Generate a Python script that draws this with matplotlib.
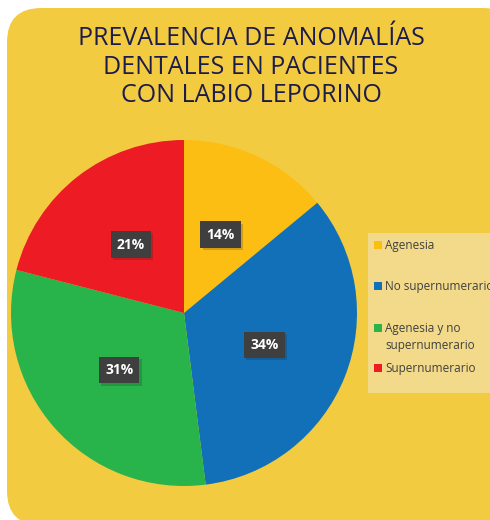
import matplotlib
matplotlib.use("Agg")
import matplotlib.pyplot as plt
from matplotlib.patches import FancyBboxPatch, Rectangle
import matplotlib.patheffects as pe

# data
categories = ["Agenesia", "No supernumerario", "Agenesia y no\nsupernumerario", "Supernumerario"]
values = [14, 34, 31, 21]
colors = ["#FDBE14", "#1270B8", "#28B34B", "#ED1C24"]
title = "PREVALENCIA DE ANOMALÍAS\nDENTALES EN PACIENTES\nCON LABIO LEPORINO"

W, H = 490, 520
fig = plt.figure(figsize=(W / 100, H / 100), dpi=100)
fig.patch.set_facecolor("white")

# rounded yellow background
bg = FancyBboxPatch((7 / W, -0.01), (W + 20) / W, (H - 8) / H + 0.01,
                    boxstyle="round,pad=0,rounding_size=0.07",
                    transform=fig.transFigure, facecolor="#F3CB41",
                    edgecolor="none", zorder=-2, mutation_aspect=W / H)
fig.patches.append(bg)

fig.text(251 / W, 1 - 67 / H, title, ha="center", va="center",
         fontsize=18, color="#1C1C4A", family="Open Sans",
         linespacing=1.2)

# pie
cx, cy, r = 184, 313, 173
ax = fig.add_axes([(cx - r) / W, (H - cy - r) / H, 2 * r / W, 2 * r / H], zorder=1)
ax.patch.set_visible(False)
wedges, texts, autotexts = ax.pie(values, colors=colors, startangle=90, counterclock=False,
                                  autopct="%d%%", pctdistance=0.5, radius=1,
                                  wedgeprops=dict(linewidth=0))
ax.set_aspect("auto")
ax.set_xlim(-1, 1)
ax.set_ylim(-1, 1)
ax.axis("off")
for t in autotexts:
    t.set_color("white")
    t.set_fontweight("bold")
    t.set_fontsize(10)
    t.set_family("Open Sans")
    t.set_bbox(dict(boxstyle="square,pad=0.45", facecolor="#3F3F3F", edgecolor="none"))
    t.get_bbox_patch().set_path_effects([pe.SimplePatchShadow(offset=(1.5, -1.5), alpha=0.18), pe.Normal()])

# legend
leg_bg = Rectangle((368 / W, 1 - 393 / H), (W - 368 + 5) / W, (393 - 233) / H,
                   transform=fig.transFigure, facecolor="#F2DA8A", edgecolor="none", zorder=-1)
fig.patches.append(leg_bg)
leg_y = [245, 286, 328, 368]
for lab, col, y in zip(categories, colors, leg_y):
    fig.patches.append(Rectangle((374 / W, 1 - (y + 4) / H), 8 / W, 8 / H,
                                 transform=fig.transFigure, facecolor=col,
                                 edgecolor="none", zorder=2))
    fig.text(385 / W, 1 - (y - 6) / H, lab, ha="left", va="top",
             fontsize=8.5, color="#404040", family="Open Sans", linespacing=1.35,
             zorder=3)

fig.savefig("out.png", dpi=100, facecolor="white")
